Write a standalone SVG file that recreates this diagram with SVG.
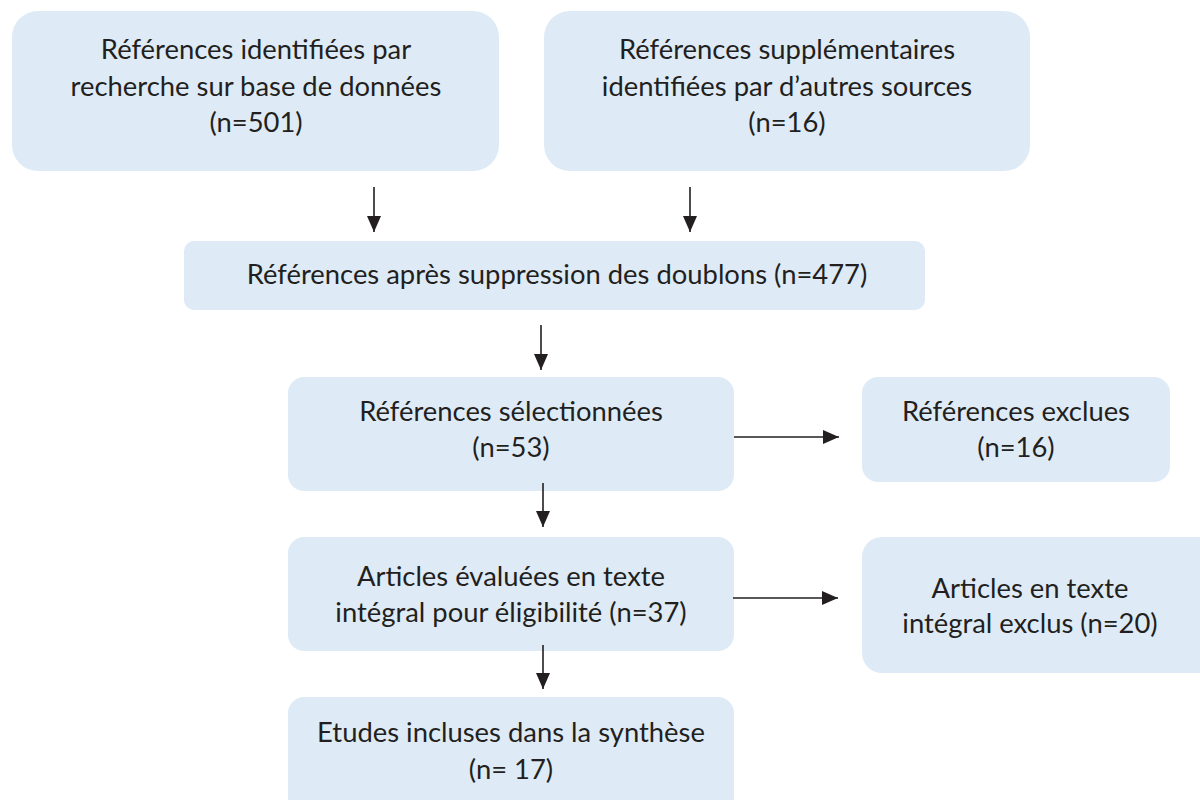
<svg xmlns="http://www.w3.org/2000/svg" width="1200" height="800" viewBox="0 0 1200 800">
<defs>
<marker id="ah" viewBox="0 0 16 14" refX="16" refY="7" markerWidth="16" markerHeight="14" markerUnits="userSpaceOnUse" orient="auto">
<path d="M0,0 L16,7 L0,14 Z" fill="#231f20"/>
</marker>
<style>
.box{fill:#deebf6;}
.t{font-family:Lato,"Open Sans","Liberation Sans",sans-serif;font-size:27.4px;fill:#231f20;text-anchor:middle;}
.c{stroke:#231f20;stroke-width:1.6;fill:none;marker-end:url(#ah);}
</style>
</defs>
<rect width="1200" height="800" fill="#ffffff"/>
<g id="n1"><rect class="box" x="12" y="11" width="487" height="160" rx="26"/>
<text class="t" x="256" y="59">Références identifiées par</text>
<text class="t" x="256" y="96">recherche sur base de données</text>
<text class="t" x="256" y="132">(n=501)</text></g>
<g id="n2"><rect class="box" x="544" y="11" width="486" height="160" rx="26"/>
<text class="t" x="787" y="59">Références supplémentaires</text>
<text class="t" x="787" y="96">identifiées par d’autres sources</text>
<text class="t" x="787" y="132">(n=16)</text></g>
<g id="n3"><rect class="box" x="184" y="241" width="741" height="69" rx="10"/>
<text class="t" x="557" y="284">Références après suppression des doublons (n=477)</text></g>
<g id="n4"><rect class="box" x="288" y="377" width="446" height="114" rx="16"/>
<text class="t" x="511" y="421">Références sélectionnées</text>
<text class="t" x="511" y="457">(n=53)</text></g>
<g id="n5"><rect class="box" x="862" y="377" width="308" height="105" rx="16"/>
<text class="t" x="1016" y="421">Références exclues</text>
<text class="t" x="1016" y="457">(n=16)</text></g>
<g id="n6"><rect class="box" x="288" y="537" width="446" height="114" rx="16"/>
<text class="t" x="511" y="586">Articles évaluées en texte</text>
<text class="t" x="511" y="622">intégral pour éligibilité (n=37)</text></g>
<g id="n7"><rect class="box" x="862" y="537" width="360" height="136" rx="20"/>
<text class="t" x="1030" y="598">Articles en texte</text>
<text class="t" x="1030" y="633">intégral exclus (n=20)</text></g>
<g id="n8"><rect class="box" x="288" y="697" width="446" height="130" rx="16"/>
<text class="t" x="511" y="742">Etudes incluses dans la synthèse</text>
<text class="t" x="511" y="779">(n= 17)</text></g>
<g id="connectors">
<line class="c" x1="374" y1="187" x2="374" y2="232"/>
<line class="c" x1="690" y1="187" x2="690" y2="232"/>
<line class="c" x1="541" y1="325" x2="541" y2="370"/>
<line class="c" x1="543" y1="483" x2="543" y2="527"/>
<line class="c" x1="543" y1="645" x2="543" y2="689"/>
<line class="c" x1="734" y1="437" x2="839" y2="437"/>
<line class="c" x1="733" y1="598" x2="838" y2="598"/>
</g>
</svg>
